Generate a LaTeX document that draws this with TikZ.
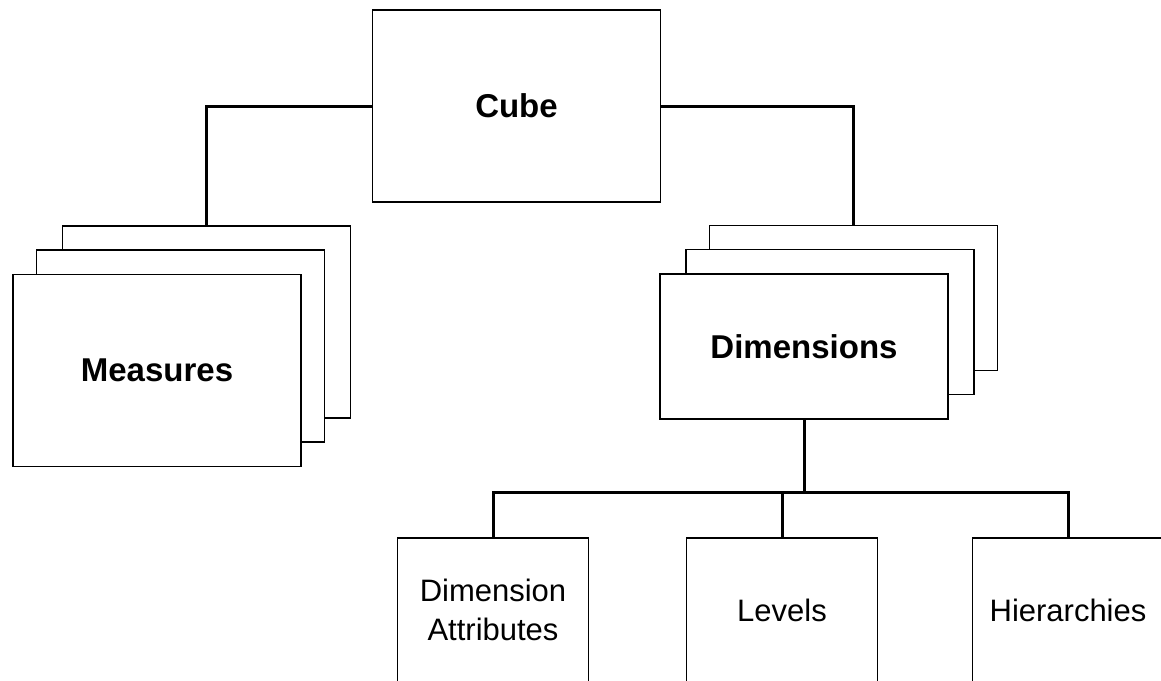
\documentclass[tikz,border=0pt]{standalone}
\usepackage{fontspec}
\setmainfont{Liberation Sans}
\begin{document}
\begin{tikzpicture}[
		x=1pt, y=-1pt,
		block/.style={draw, fill=white, line width=1.3pt, minimum width=288pt, minimum height=192pt, inner sep=0pt, font=\fontsize{33}{38}\selectfont\bfseries},
		leaf/.style={draw, fill=white, line width=1.3pt, minimum width=191pt, minimum height=144pt, inner sep=0pt, align=center, font=\fontsize{31}{39}\selectfont},
		link/.style={line width=3pt},
	]
	\clip (0, 0) rectangle (1161, 680);

	\node[block] (cube) at (516.5, 106) {Cube};

	% Measures stack
	\node[block] (mback)  at (206.5, 322)   {};
	\node[block] (mmid)   at (180.5, 346)   {};
	\node[block] (mfront) at (157, 370.5)   {Measures};

	% Dimensions stack
	\node[block, minimum height=145pt] (dback)  at (853.5, 298)   {};
	\node[block, minimum height=145pt] (dmid)   at (830, 322)     {};
	\node[block, minimum height=145pt] (dfront) at (804, 346.5)   {Dimensions};

	\node[leaf] (attr)   at (493, 610)  {Dimension\\Attributes};
	\node[leaf] (levels) at (782, 610)  {Levels};
	\node[leaf] (hier)   at (1068, 610) {Hierarchies};

	\coordinate (bus) at (804, 492);

	\draw[link] (cube.west) -| (mback.north);
	\draw[link] (cube.east) -| (dback.north);
	\draw[link] (dfront.south) -- (bus);
	\draw[link] (attr.north) |- (bus) -| (hier.north);
	\draw[link] (levels.north) |- (bus);
\end{tikzpicture}
\end{document}
